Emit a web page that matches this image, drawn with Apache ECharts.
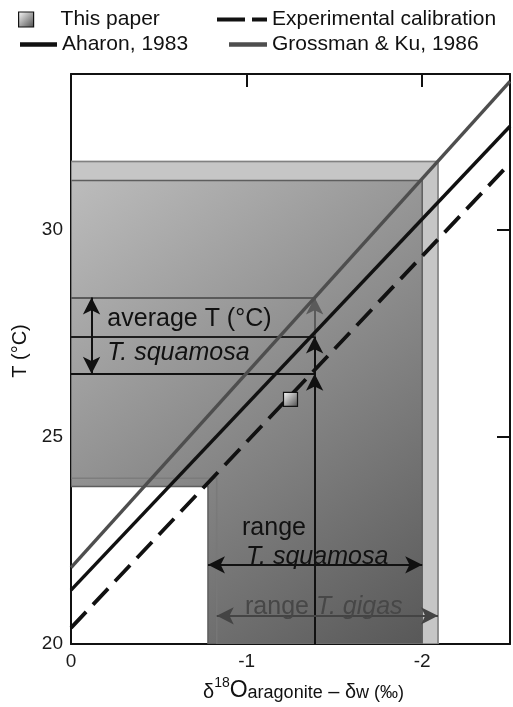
<!DOCTYPE html>
<html><head><meta charset="utf-8">
<script src="https://cdn.jsdelivr.net/npm/echarts@6/dist/echarts.min.js"></script>
<style>html,body{margin:0;padding:0;background:#fff}#c{width:513px;height:707px}</style>
</head><body><div id="c"></div>
<script>
// ---- data ----
const xTickValues = [0, -1, -2];
const yTickValues = [20, 25, 30];
const xRange = [-2.5, 0];
const yRange = [20, 33.75];
const calibX = [0, -2.5];
const grossmanKuT = [21.84, 33.57];
const aharonT = [21.3, 32.49];
const experimentalT = [20.39, 31.6];
const thisPaper = [[-1.25, 25.9]];
const gigasX = [-0.83, -2.09];
const gigasT = [24.0, 31.64];
const squamosaX = [-0.78, -2.0];
const squamosaT = [23.8, 31.18];
const avgDelta = -1.3875;
const avgT = [28.36, 27.42, 26.52];
const avgArrowX = -0.117;
const squamosaArrowT = 21.91;
const gigasArrowT = 20.68;
const annotationTexts = ['average T (°C)', '{i|T. squamosa}', 'range', '{i|T. squamosa}', '{g|range }{gi|T. gigas}'];
const annotationAnchors = [[-0.207, 27.83], [-0.207, 27.03], [-0.974, 22.80], [-0.997, 22.10], [-0.991, 20.89]];

const FONT = '"Liberation Sans", Arial, Helvetica, sans-serif';
const BLACK = '#111';
const GRAY = '#4e4e4e';

function lShape(xr, tr) {
  return [[calibX[0], tr[1]], [xr[1], tr[1]], [xr[1], yRange[0]], [xr[0], yRange[0]], [xr[0], tr[0]], [calibX[0], tr[0]]];
}
function polySeries(name, xr, tr, style, z) {
  return {
    type: 'custom', name, z, silent: true, clip: true,
    data: [[xr[0], tr[0]]],
    renderItem: (params, api) => ({
      type: 'polygon',
      shape: { points: lShape(xr, tr).map(p => api.coord(p)) },
      style
    })
  };
}
function seg(p1, p2, color, s1, s2) {
  return [
    { coord: p1, symbol: s1 || 'none', lineStyle: { color, type: 'solid', width: 2 }, itemStyle: { color } },
    { coord: p2, symbol: s2 || 'none', lineStyle: { color, type: 'solid', width: 2 }, itemStyle: { color } }
  ];
}

const chart = echarts.init(document.getElementById('c'), null, { renderer: 'canvas' });

const axisLine = { show: true, onZero: false, lineStyle: { color: BLACK, width: 2 } };
const axisTick = { show: true, inside: true, length: 13, lineStyle: { color: BLACK, width: 2 } };
const tickFont = { fontFamily: FONT, fontSize: 19, color: '#1a1a1a' };

const squamosaFill = new echarts.graphic.LinearGradient(0, 0, 1, 1, [
  { offset: 0, color: '#bcbcbc' }, { offset: 1, color: '#585858' }
]);
const pointFill = new echarts.graphic.LinearGradient(0, 0, 1, 1, [
  { offset: 0, color: '#ffffff' }, { offset: 1, color: '#4a4a4a' }
]);

const legendText = { fontFamily: FONT, fontSize: 21, color: BLACK };
const legendBase = { orient: 'horizontal', padding: 0, selectedMode: false, textStyle: legendText,
  itemStyle: { borderWidth: 0 } };

chart.setOption({
  animation: false,
  backgroundColor: '#fff',
  grid: { left: 71, right: 1, top: 74, bottom: 63, containLabel: false },
  legend: [
    Object.assign({}, legendBase, { data: ['This paper'], left: 18, top: 9, itemWidth: 15, itemHeight: 15,
      itemStyle: { borderColor: BLACK, borderWidth: 1.2 },
      textStyle: Object.assign({ padding: [0, 0, 0, 22] }, legendText) }),
    Object.assign({}, legendBase, { data: [{ name: 'Experimental calibration',
        icon: 'path://M0,0 H28 V4 H0 Z M35,0 H50 V4 H35 Z' }],
      left: 217, top: 9, itemWidth: 50, itemHeight: 4.5 }),
    Object.assign({}, legendBase, { data: [{ name: 'Aharon, 1983', icon: 'rect' }],
      left: 20, top: 34, itemWidth: 37, itemHeight: 4.5 }),
    Object.assign({}, legendBase, { data: [{ name: 'Grossman & Ku, 1986', icon: 'rect' }],
      left: 229, top: 34, itemWidth: 38, itemHeight: 4.5 })
  ],
  xAxis: [
    { type: 'value', position: 'bottom', min: xRange[0], max: xRange[1], inverse: true, minInterval: 1, maxInterval: 1,
      axisLine, axisTick, splitLine: { show: false },
      axisLabel: Object.assign({ margin: 8, formatter: v => xTickValues.includes(v) ? String(v) : '' }, tickFont),
      name: '{d|δ}{sup|18}{o|O}{s|aragonite}{d| – δ}{s|w (‰)}', nameLocation: 'middle', nameGap: 32,
      nameTextStyle: { padding: [0, 0, 0, 26], rich: {
        d: { fontFamily: FONT, fontSize: 20, color: BLACK, verticalAlign: 'bottom', lineHeight: 26 },
        sup: { fontFamily: FONT, fontSize: 14, color: BLACK, verticalAlign: 'top', lineHeight: 26 },
        o: { fontFamily: FONT, fontSize: 23, color: BLACK, verticalAlign: 'bottom', lineHeight: 26 },
        s: { fontFamily: FONT, fontSize: 18, color: BLACK, verticalAlign: 'bottom', lineHeight: 26 }
      } } },
    { type: 'value', position: 'top', min: xRange[0], max: xRange[1], inverse: true, minInterval: 1, maxInterval: 1,
      axisLine, axisTick, splitLine: { show: false }, axisLabel: { show: false } }
  ],
  yAxis: [
    { type: 'value', position: 'left', min: yRange[0], max: yRange[1], interval: 5,
      axisLine, axisTick, splitLine: { show: false },
      axisLabel: Object.assign({ margin: 8, formatter: v => yTickValues.includes(v) ? String(v) : '' }, tickFont),
      name: 'T (°C)', nameLocation: 'middle', nameGap: 40, nameRotate: 90,
      nameTextStyle: { fontFamily: FONT, fontSize: 20, color: BLACK, padding: [0, 0, 0, 16] } },
    { type: 'value', position: 'right', min: yRange[0], max: yRange[1], interval: 5,
      axisLine, axisTick, splitLine: { show: false }, axisLabel: { show: false } }
  ],
  series: [
    polySeries('gigasFill', gigasX, gigasT, { fill: '#c6c6c6', stroke: '#a4a4a4', lineWidth: 1.5 }, 1),
    polySeries('squamosaFill', squamosaX, squamosaT, { fill: squamosaFill, stroke: '#5e5e5e', lineWidth: 1.5 }, 2),
    polySeries('gigasOutline', gigasX, gigasT, { fill: 'none', stroke: 'rgba(120,120,120,0.8)', lineWidth: 1.5 }, 3),
    { type: 'line', name: 'guides', data: [], z: 6, symbol: 'none', silent: true,
      markLine: { silent: true, symbolSize: [13, 17], label: { show: false }, emphasis: { disabled: true },
        animation: false,
        data: [
          seg([calibX[0], avgT[0]], [avgDelta, avgT[0]], '#5a5a5a'),
          seg([calibX[0], avgT[1]], [avgDelta, avgT[1]], '#1e1e1e'),
          seg([calibX[0], avgT[2]], [avgDelta, avgT[2]], BLACK),
          seg([avgDelta, avgT[1]], [avgDelta, avgT[0]], '#5a5a5a', 'none', 'arrow'),
          seg([avgDelta, yRange[0]], [avgDelta, avgT[1]], BLACK, 'none', 'arrow'),
          seg([avgDelta, yRange[0]], [avgDelta, avgT[2]], BLACK, 'none', 'arrow'),
          seg([avgArrowX, avgT[0]], [avgArrowX, avgT[2]], BLACK, 'arrow', 'arrow'),
          seg([squamosaX[0], squamosaArrowT], [squamosaX[1], squamosaArrowT], BLACK, 'arrow', 'arrow'),
          seg([gigasX[0], gigasArrowT], [gigasX[1], gigasArrowT], '#444', 'arrow', 'arrow')
        ] } },
    { type: 'line', name: 'Grossman & Ku, 1986', z: 7, symbol: 'none', silent: true,
      data: calibX.map((x, i) => [x, grossmanKuT[i]]),
      lineStyle: { color: GRAY, width: 3.4 }, itemStyle: { color: GRAY } },
    { type: 'line', name: 'Aharon, 1983', z: 7, symbol: 'none', silent: true,
      data: calibX.map((x, i) => [x, aharonT[i]]),
      lineStyle: { color: BLACK, width: 3.4 }, itemStyle: { color: BLACK } },
    { type: 'line', name: 'Experimental calibration', z: 7, symbol: 'none', silent: true,
      data: calibX.map((x, i) => [x, experimentalT[i]]),
      lineStyle: { color: BLACK, width: 3.8, type: [22, 10] }, itemStyle: { color: BLACK } },
    { type: 'scatter', name: 'This paper', z: 10, symbol: 'rect', symbolSize: 14, silent: true,
      data: thisPaper,
      itemStyle: { color: pointFill, borderColor: BLACK, borderWidth: 1.2, opacity: 1 } },
    { type: 'custom', name: 'annotations', z: 11, silent: true,
      data: annotationAnchors.map((a, i) => [a[0], a[1], i]),
      renderItem: (params, api) => {
        const i = params.dataIndex;
        const p = api.coord(annotationAnchors[i]);
        return { type: 'text', x: p[0], y: p[1], style: {
          text: annotationTexts[i], fontFamily: FONT, fontSize: 25, fill: BLACK,
          align: 'left', verticalAlign: 'middle',
          rich: {
            i: { fontFamily: FONT, fontSize: 25, fontStyle: 'italic', fill: BLACK },
            g: { fontFamily: FONT, fontSize: 25, fill: '#474747' },
            gi: { fontFamily: FONT, fontSize: 25, fontStyle: 'italic', fill: '#474747' }
          } } };
      } }
  ]
});
</script></body></html>
